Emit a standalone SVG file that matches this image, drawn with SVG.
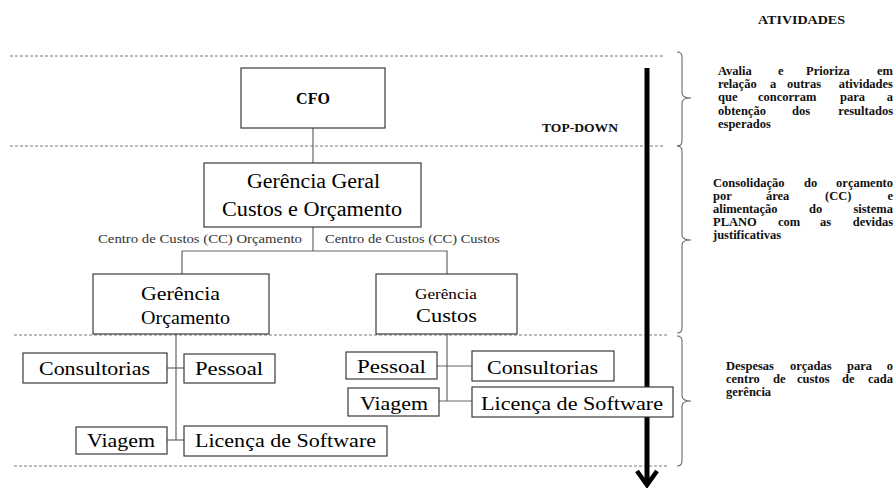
<svg xmlns="http://www.w3.org/2000/svg" width="895" height="488" viewBox="0 0 895 488" font-family="'Liberation Serif', 'DejaVu Serif', serif">
<defs>
<style>
.dash{stroke:#7a7a7a;stroke-width:1;stroke-dasharray:3,2;fill:none}
.brace{stroke:#6a6a6a;stroke-width:1.1;fill:none}
.conn{stroke:#666;stroke-width:1.2;fill:none}
.box{fill:#fff;stroke:#3a3a3a;stroke-width:1.2}
text{font-family:'Liberation Serif','DejaVu Serif',serif}
.t{fill:#000}
.big{font-size:19px}
.lbl{font-size:13.5px;fill:#333}
.b{font-weight:bold;font-size:12.5px;fill:#111}
.e{text-anchor:end}
</style>
</defs>
<rect width="895" height="488" fill="#fff"/>
<g id="bands">
<line class="dash" x1="10" y1="56" x2="663" y2="56"/>
<line class="dash" x1="10" y1="146" x2="663" y2="146"/>
<line class="dash" x1="14" y1="335" x2="667" y2="335"/>
<line class="dash" x1="14" y1="466" x2="667" y2="466"/>
<path class="brace" d="M677,52 Q682,52 682,57 L682,93 Q682,98 691,98 Q682,98 682,103 L682,141 Q682,146 677,146"/>
<path class="brace" d="M677,146 Q682,146 682,151 L682,235 Q682,240 691,240 Q682,240 682,245 L682,328 Q682,333 677,333"/>
<path class="brace" d="M677,336 Q682,336 682,341 L682,396 Q682,401 691,401 Q682,401 682,406 L682,461 Q682,466 677,466"/>
</g>
<g id="connectors">
<line class="conn" x1="313" y1="128" x2="313" y2="163"/>
<polyline class="conn" points="313,227 313,251"/>
<polyline class="conn" points="182,274 182,251 447,251 447,274"/>
<line class="conn" x1="176" y1="334" x2="176" y2="440"/>
<line class="conn" x1="167" y1="368" x2="184" y2="368"/>
<line class="conn" x1="167" y1="440" x2="184" y2="440"/>
<line class="conn" x1="447" y1="334" x2="447" y2="401"/>
<line class="conn" x1="437" y1="366" x2="472" y2="366"/>
<line class="conn" x1="439" y1="401" x2="472" y2="401"/>
</g>
<g id="topdown-arrow">
<line x1="647" y1="68" x2="647" y2="484" stroke="#000" stroke-width="5"/>
<polyline points="637,471 647,485 657,471" fill="none" stroke="#000" stroke-width="4.5" stroke-linejoin="miter"/>
<text class="b" font-size="13" x="542" y="132" textLength="76" lengthAdjust="spacingAndGlyphs">TOP-DOWN</text>
</g>
<g id="cfo">
<rect class="box" x="241" y="68" width="144" height="60"/>
<text class="t" x="313" y="104" font-size="16" font-weight="bold" text-anchor="middle">CFO</text>
</g>
<g id="gerencia-geral">
<rect class="box" x="204" y="163" width="217" height="64"/>
<text class="t" x="247" y="188" font-size="20" textLength="133" lengthAdjust="spacingAndGlyphs">Gerência Geral</text>
<text class="t" x="222" y="216" font-size="20" textLength="180" lengthAdjust="spacingAndGlyphs">Custos e Orçamento</text>
</g>
<g id="labels">
<text class="t lbl" x="98" y="243" textLength="204" lengthAdjust="spacingAndGlyphs">Centro de Custos (CC) Orçamento</text>
<text class="t lbl" x="325" y="243" textLength="175" lengthAdjust="spacingAndGlyphs">Centro de Custos (CC) Custos</text>
</g>
<g id="gerencia-orcamento">
<rect class="box" x="93" y="274" width="176" height="60"/>
<text class="t big" x="141" y="300" textLength="79" lengthAdjust="spacingAndGlyphs">Gerência</text>
<text class="t big" x="141" y="324" textLength="89" lengthAdjust="spacingAndGlyphs">Orçamento</text>
</g>
<g id="gerencia-custos">
<rect class="box" x="376" y="274" width="141" height="60"/>
<text class="t" x="415" y="299" font-size="14" textLength="62" lengthAdjust="spacingAndGlyphs">Gerência</text>
<text class="t big" x="416" y="322" textLength="61" lengthAdjust="spacingAndGlyphs">Custos</text>
</g>
<g id="orc-consultorias">
<rect class="box" x="23" y="353" width="144" height="30"/>
<text class="t big" x="39" y="375" textLength="111" lengthAdjust="spacingAndGlyphs">Consultorias</text>
</g>
<g id="orc-pessoal">
<rect class="box" x="184" y="354" width="91" height="29"/>
<text class="t big" x="195" y="375" textLength="68" lengthAdjust="spacingAndGlyphs">Pessoal</text>
</g>
<g id="orc-viagem">
<rect class="box" x="76" y="427" width="91" height="27"/>
<text class="t big" x="87" y="447" textLength="68" lengthAdjust="spacingAndGlyphs">Viagem</text>
</g>
<g id="orc-licenca">
<rect class="box" x="184" y="426" width="203" height="30"/>
<text class="t big" x="195" y="447" textLength="181" lengthAdjust="spacingAndGlyphs">Licença de Software</text>
</g>
<g id="cus-pessoal">
<rect class="box" x="346" y="352" width="91" height="27"/>
<text class="t big" x="357" y="373" textLength="69" lengthAdjust="spacingAndGlyphs">Pessoal</text>
</g>
<g id="cus-consultorias">
<rect class="box" x="472" y="351" width="142" height="30"/>
<text class="t big" x="487" y="374" textLength="111" lengthAdjust="spacingAndGlyphs">Consultorias</text>
</g>
<g id="cus-viagem">
<rect class="box" x="348" y="388" width="91" height="28"/>
<text class="t big" x="360" y="410" textLength="68" lengthAdjust="spacingAndGlyphs">Viagem</text>
</g>
<g id="cus-licenca">
<rect class="box" x="472" y="387" width="201" height="30"/>
<text class="t big" x="481" y="410" textLength="182" lengthAdjust="spacingAndGlyphs">Licença de Software</text>
</g>
<g id="atividades">
<text class="b" font-size="13" x="758" y="24" textLength="87" lengthAdjust="spacingAndGlyphs">ATIVIDADES</text>
</g>
<g id="atividade-1">
<text class="b" x="718" y="75">Avalia</text>
<text class="b" x="778" y="75">e</text>
<text class="b" x="806" y="75">Prioriza</text>
<text class="b e" x="893" y="75">em</text>
<text class="b" x="718" y="88">relação</text>
<text class="b" x="770" y="88">a</text>
<text class="b" x="787" y="88">outras</text>
<text class="b e" x="893" y="88">atividades</text>
<text class="b" x="718" y="101">que</text>
<text class="b" x="758" y="101">concorram</text>
<text class="b" x="840" y="101">para</text>
<text class="b e" x="893" y="101">a</text>
<text class="b" x="718" y="115">obtenção</text>
<text class="b" x="792" y="115">dos</text>
<text class="b e" x="893" y="115">resultados</text>
<text class="b" x="718" y="128">esperados</text>
</g>
<g id="atividade-2">
<text class="b" x="713" y="187">Consolidação</text>
<text class="b" x="804" y="187">do</text>
<text class="b e" x="893" y="187">orçamento</text>
<text class="b" x="713" y="200">por</text>
<text class="b" x="766" y="200">área</text>
<text class="b" x="825" y="200">(CC)</text>
<text class="b e" x="893" y="200">e</text>
<text class="b" x="713" y="213">alimentação</text>
<text class="b" x="809" y="213">do</text>
<text class="b e" x="893" y="213">sistema</text>
<text class="b" x="713" y="226">PLANO</text>
<text class="b" x="778" y="226">com</text>
<text class="b" x="820" y="226">as</text>
<text class="b e" x="893" y="226">devidas</text>
<text class="b" x="713" y="239">justificativas</text>
</g>
<g id="atividade-3">
<text class="b" x="726" y="370">Despesas</text>
<text class="b" x="790" y="370">orçadas</text>
<text class="b" x="847" y="370">para</text>
<text class="b e" x="893" y="370">o</text>
<text class="b" x="726" y="383">centro</text>
<text class="b" x="773" y="383">de</text>
<text class="b" x="797" y="383">custos</text>
<text class="b" x="842" y="383">de</text>
<text class="b e" x="893" y="383">cada</text>
<text class="b" x="726" y="396">gerência</text>
</g>
</svg>
